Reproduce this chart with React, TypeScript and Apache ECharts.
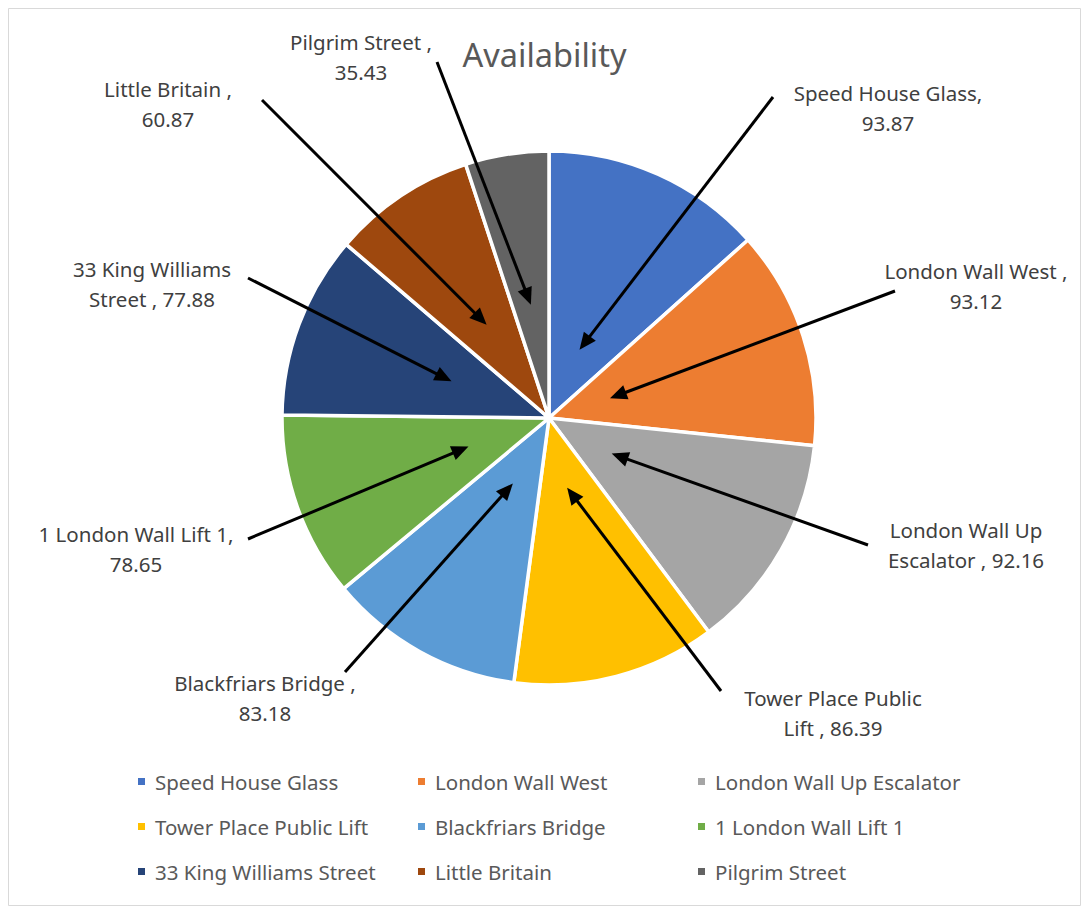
import React, { useEffect, useRef } from "react";
import * as echarts from "echarts";

const names = [
  "Speed House Glass",
  "London Wall West",
  "London Wall Up Escalator",
  "Tower Place Public Lift",
  "Blackfriars Bridge",
  "1 London Wall Lift 1",
  "33 King Williams Street",
  "Little Britain",
  "Pilgrim Street",
];
const values = [93.87, 93.12, 92.16, 86.39, 83.18, 78.65, 77.88, 60.87, 35.43];
const colors = [
  "#4472C4",
  "#ED7D31",
  "#A5A5A5",
  "#FFC000",
  "#5B9BD5",
  "#70AD47",
  "#264478",
  "#9E480E",
  "#636363",
];
const titleText = "Availability";
// label text layout (separator before value, words on first line)
const labelSep = [",", " ,", " ,", " ,", " ,", ",", " ,", " ,", " ,"];
const labelWrapWords = [3, 3, 3, 3, 2, 5, 3, 2, 2];

// layout constants (chart pixel coordinates)
const W = 1073;
const H = 898;
const CX = 541;
const CY = 410;
const R = 267;
const labelPos = [
  [880, 100],
  [968, 278],
  [958, 537],
  [825, 705],
  [257, 690],
  [128, 541],
  [144, 276],
  [160, 96],
  [353, 49],
];
const arrowTail = [
  [765, 89],
  [887, 283],
  [860, 537],
  [713, 683],
  [337, 664],
  [240, 531],
  [240, 270],
  [254, 92],
  [429, 54],
];
const arrowDepth = [0.28, 0.24, 0.27, 0.27, 0.28, 0.32, 0.39, 0.42, 0.43];

const FONT = "'Noto Sans', 'Open Sans', sans-serif";

function labelText(i: number): string {
  const words = names[i].split(" ");
  const k = labelWrapWords[i];
  const first = words.slice(0, k).join(" ");
  const rest = words.slice(k).join(" ");
  const v = values[i].toFixed(2);
  if (rest) return `${first}\n${rest}${labelSep[i]} ${v}`;
  return `${first}${labelSep[i]}\n${v}`;
}

function buildArrows(): any[] {
  const total = values.reduce((a, b) => a + b, 0);
  let cum = 0;
  const els: any[] = [];
  values.forEach((v, i) => {
    const start = (cum / total) * 360;
    cum += v;
    const end = (cum / total) * 360;
    const mid = ((start + end) / 2) * (Math.PI / 180);
    const d = arrowDepth[i] * R;
    const tip = [CX + d * Math.sin(mid), CY - d * Math.cos(mid)];
    const tail = arrowTail[i];
    const dx = tip[0] - tail[0];
    const dy = tip[1] - tail[1];
    const len = Math.sqrt(dx * dx + dy * dy);
    const ux = dx / len;
    const uy = dy / len;
    const L = 17;
    const hw = 7.5;
    const bx = tip[0] - ux * L;
    const by = tip[1] - uy * L;
    const nx = -uy;
    const ny = ux;
    els.push({
      type: "line",
      silent: true,
      z: 100,
      shape: { x1: tail[0], y1: tail[1], x2: bx + ux * 2, y2: by + uy * 2 },
      style: { stroke: "#000", lineWidth: 3 },
    });
    els.push({
      type: "polygon",
      silent: true,
      z: 100,
      shape: {
        points: [
          [tip[0], tip[1]],
          [bx + nx * hw, by + ny * hw],
          [bx - nx * hw, by - ny * hw],
        ],
      },
      style: { fill: "#000" },
    });
  });
  return els;
}

export default function App() {
  const ref = useRef<HTMLDivElement>(null);
  useEffect(() => {
    document.body.style.overflow = "hidden";
    if (!ref.current) return;
    const chart = echarts.init(ref.current, undefined, { renderer: "svg" });
    chart.setOption({
      animation: false,
      backgroundColor: "#fff",
      title: {
        text: titleText,
        left: "center",
        top: 26,
        padding: 0,
        textStyle: {
          fontFamily: FONT,
          fontSize: 32.5,
          fontWeight: "normal",
          color: "#595959",
          lineHeight: 40,
        },
      },
      legend: {
        data: names,
        orient: "horizontal",
        left: 128,
        top: 756,
        width: 860,
        padding: 0,
        itemGap: 10,
        itemWidth: 17,
        itemHeight: 9,
        icon: "path://M0,0H1V1H0Z",
        textStyle: {
          fontFamily: FONT,
          fontSize: 20.5,
          color: "#595959",
          lineHeight: 35,
          width: 251,
          overflow: "truncate",
        },
      },
      graphic: [
        {
          type: "rect",
          silent: true,
          z: -10,
          shape: { x: 0.5, y: 0.5, width: W - 1, height: H - 1 },
          style: { fill: "none", stroke: "#d9d9d9", lineWidth: 1 },
        },
        ...buildArrows(),
      ],
      series: [
        {
          type: "pie",
          center: [CX, CY],
          radius: [0, R],
          startAngle: 90,
          clockwise: true,
          avoidLabelOverlap: false,
          data: names.map((n, i) => ({
            name: n,
            value: values[i],
            itemStyle: { color: colors[i] },
          })),
          itemStyle: { borderColor: "#fff", borderWidth: 3.5 },
          label: {
            show: true,
            position: "outside",
            formatter: (p: any) => labelText(p.dataIndex),
            fontFamily: FONT,
            fontSize: 20.5,
            lineHeight: 30,
            color: "#404040",
            align: "center",
          },
          labelLine: { show: false },
          labelLayout: (p: any) => ({
            x: labelPos[p.dataIndex][0],
            y: labelPos[p.dataIndex][1],
            align: "center",
            verticalAlign: "middle",
          }),
          emphasis: { disabled: true },
        },
      ],
    });
    return () => chart.dispose();
  }, []);
  return <div ref={ref} style={{ width: W, height: H }} />;
}
